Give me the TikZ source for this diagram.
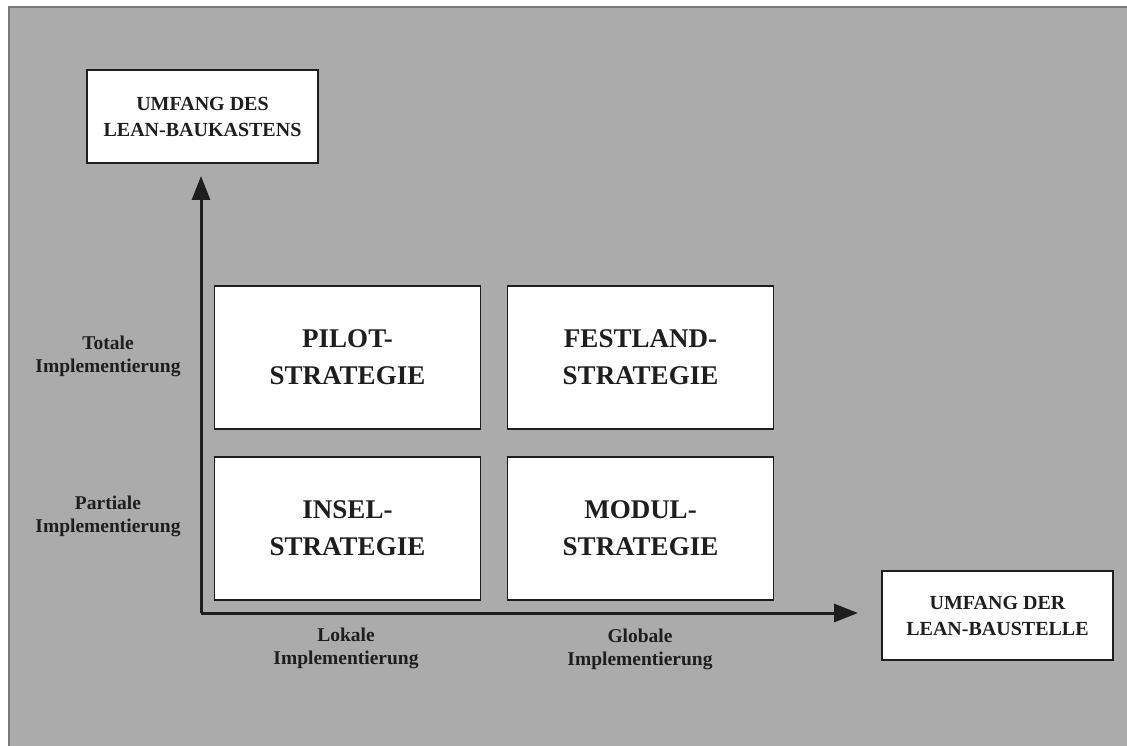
\documentclass[tikz,border=0pt]{standalone}
\usepackage{fontspec}
\setmainfont{Liberation Serif}
\usetikzlibrary{arrows.meta}
\definecolor{panel}{HTML}{ABABAB}
\definecolor{paneledge}{HTML}{7A7A7A}
\definecolor{ink}{HTML}{1E1E1E}
\begin{document}
\begin{tikzpicture}[x=1pt,y=-1pt,
  box/.style={draw=ink, line width=1.4pt, fill=white, inner sep=0pt, align=center, text=ink},
  strat/.style={box, minimum width=266pt, minimum height=143pt, font=\fontsize{27}{37}\selectfont\bfseries},
  dimbox/.style={box, minimum width=231pt, font=\fontsize{20}{26}\selectfont\bfseries},
  axislabel/.style={align=center, text=ink, inner sep=0pt, font=\fontsize{19.5}{23}\selectfont\bfseries},
  axis/.style={draw=ink, line width=3pt, -{Triangle[length=24pt,width=18pt]}}]

% page and grey panel
\useasboundingbox (0,0) rectangle (1127,746);
\fill[white] (0,0) rectangle (1127,746);
\fill[panel] (9,7) rectangle (1127,746);
\draw[paneledge, line width=1.2pt] (9,746) -- (9,7) -- (1127,7);

% dimension boxes
\node[dimbox, minimum height=93pt] (baukasten) at (202.5,116.5) {UMFANG DES\\LEAN-BAUKASTENS};
\node[dimbox, minimum height=89pt] (baustelle) at (997.5,615.5) {UMFANG DER\\LEAN-BAUSTELLE};

% axes
\coordinate (origin) at (201,613);
\coordinate (ytip) at (201,176);
\coordinate (xtip) at (858,613);
\draw[axis] (origin) -- (ytip);
\draw[axis] (origin) -- (xtip);

% strategy matrix
\node[strat] (pilot) at (347.5,357.5) {PILOT-\\STRATEGIE};
\node[strat] (festland) at (640.5,357.5) {FESTLAND-\\STRATEGIE};
\node[strat] (insel) at (347.5,528.5) {INSEL-\\STRATEGIE};
\node[strat] (modul) at (640.5,528.5) {MODUL-\\STRATEGIE};

% axis labels
\node[axislabel] (totale) at (108,356) {Totale\\Implementierung};
\node[axislabel] (partiale) at (108,516) {Partiale\\Implementierung};
\node[axislabel] (lokale) at (346,648) {Lokale\\Implementierung};
\node[axislabel] (globale) at (640,649) {Globale\\Implementierung};
\end{tikzpicture}
\end{document}
